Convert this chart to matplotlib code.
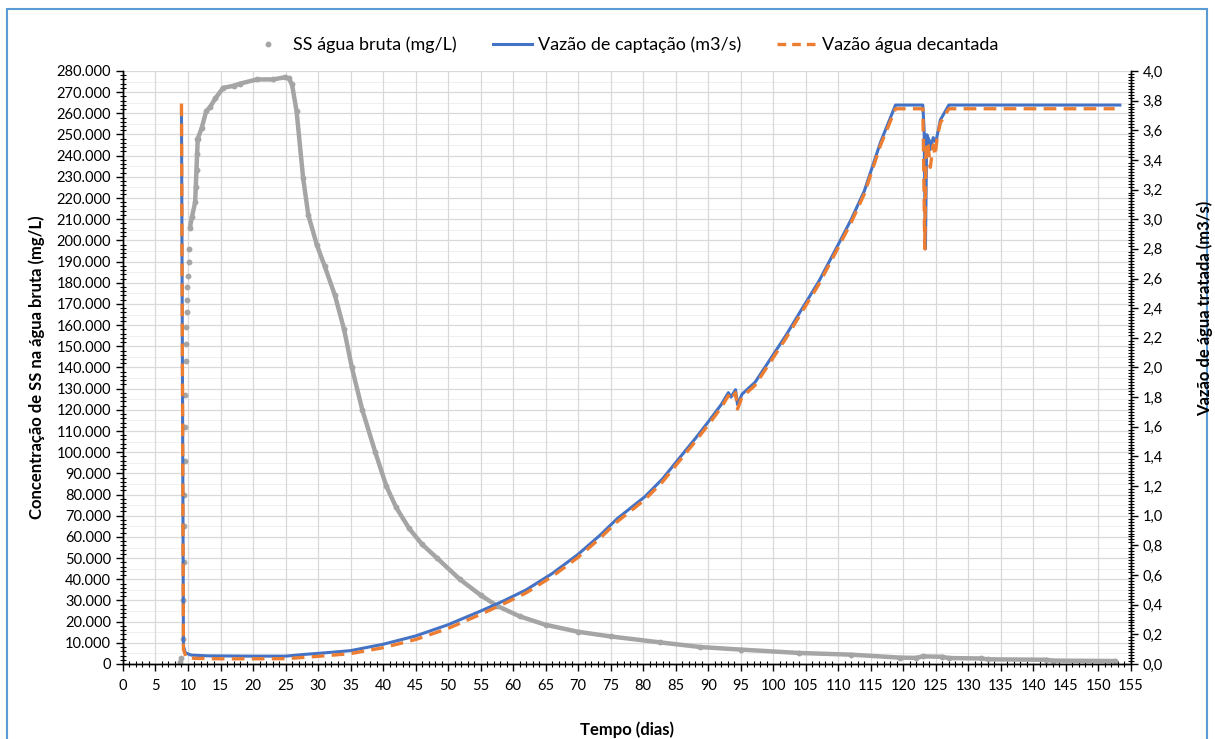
import matplotlib
matplotlib.use('Agg')
import matplotlib.pyplot as plt
from matplotlib.ticker import MultipleLocator, FuncFormatter
from matplotlib.lines import Line2D
from matplotlib.patches import Rectangle

plt.rcParams['font.family'] = ['Lato', 'DejaVu Sans']

# SS na água bruta (mg/L) - trecho inicial, pontos espaçados
ss_dias_ini = [8.8, 8.9, 9.2, 9.3, 9.35, 9.4, 9.45, 9.5, 9.55, 9.6, 9.65, 9.7,
               9.75, 9.8, 9.85, 9.9, 10.0, 10.1, 10.2, 11.3, 11.33, 11.36, 11.4]
ss_ini = [1000, 3000, 12000, 30000, 48000, 65000, 80000, 96000, 112000, 127000,
          143000, 151000, 159000, 166000, 172000, 178000, 183000, 190000, 196000,
          225000, 233000, 241000, 248000]

# SS na água bruta (mg/L) - trecho contínuo
ss_dias = [10.3, 10.6, 11.1, 11.5, 12.1, 12.8, 13.4, 14.2, 15.4, 17.0, 18.0, 20.6,
           23.1, 24.9, 25.5, 26.0, 26.7, 27.7, 28.5, 29.8, 31.0, 32.6, 34.0, 35.2,
           36.8, 38.8, 40.5, 42.0, 44.0, 46.0, 48.3, 51.8, 55.0, 57.5, 61.0, 65.0,
           70.0, 75.0, 82.6, 88.8, 95.0, 104.0, 112.0, 119.5, 122.0, 123.0, 126.0,
           127.0, 132.0, 133.0, 142.0, 143.0, 152.5]
ss = [206000, 211000, 218000, 248000, 253000, 261000, 263000, 267000, 272000,
      273000, 274000, 276000, 276000, 277000, 276500, 273600, 261000, 229600,
      212000, 198000, 188000, 174000, 158000, 140000, 120000, 100000, 84000,
      74000, 64000, 56500, 50000, 40000, 32500, 27500, 22500, 18500, 15200,
      13000, 10200, 8000, 6800, 5200, 4400, 3000, 2900, 3600, 3400, 2800, 2600,
      2200, 2000, 1600, 1400]

# Vazão de captação (m3/s)
cap_dias = [9.0, 9.3, 9.6, 10.5, 13.0, 20.0, 25.0, 28.0, 31.0, 35.0, 40.0, 45.0,
            50.0, 55.0, 58.5, 62.0, 66.0, 70.0, 73.4, 76.0, 80.3, 83.0, 85.4, 88.0,
            90.3, 92.0, 93.1, 93.5, 94.2, 94.5, 95.2, 97.2, 99.3, 102.0, 104.2,
            107.0, 110.0, 112.0, 114.0, 116.5, 118.8, 123.0, 123.2, 123.4, 123.6,
            124.0, 124.15, 124.6, 125.0, 125.7, 127.0, 153.3]
captacao = [3.74, 0.12, 0.075, 0.06, 0.055, 0.053, 0.053, 0.065, 0.075, 0.09,
            0.133, 0.189, 0.265, 0.357, 0.425, 0.50, 0.61, 0.74, 0.87, 0.98, 1.13,
            1.25, 1.38, 1.52, 1.65, 1.75, 1.83, 1.80, 1.85, 1.75, 1.82, 1.90, 2.04,
            2.22, 2.38, 2.58, 2.83, 3.0, 3.19, 3.52, 3.77, 3.77, 3.60, 2.80, 3.57,
            3.53, 3.47, 3.55, 3.52, 3.67, 3.77, 3.77]

# Vazão água decantada (m3/s)
dec_dias = [9.0, 9.3, 9.7, 11.0, 15.0, 20.0, 25.0, 28.0, 31.0, 35.0, 40.0, 45.0,
            50.0, 55.0, 58.5, 62.0, 66.0, 70.0, 73.4, 76.0, 80.3, 83.0, 85.4, 88.0,
            90.3, 92.0, 93.1, 93.5, 94.2, 94.5, 95.2, 97.2, 99.3, 102.0, 104.2,
            107.0, 110.0, 112.0, 114.0, 116.5, 118.8, 123.0, 123.1, 123.3, 123.5,
            123.8, 124.15, 124.6, 124.9, 125.2, 125.7, 127.0, 152.5]
decantada = [3.78, 0.10, 0.045, 0.038, 0.035, 0.035, 0.036, 0.045, 0.055, 0.07,
             0.11, 0.165, 0.24, 0.335, 0.405, 0.48, 0.59, 0.72, 0.85, 0.96, 1.11,
             1.23, 1.36, 1.50, 1.63, 1.73, 1.81, 1.78, 1.83, 1.72, 1.80, 1.88, 2.02,
             2.20, 2.36, 2.56, 2.81, 2.98, 3.17, 3.50, 3.745, 3.745, 3.48, 2.80,
             3.52, 3.50, 3.35, 3.50, 3.43, 3.55, 3.65, 3.745, 3.745]

CINZA = '#A5A5A5'
AZUL = '#4472C4'
LARANJA = '#ED7D31'
GRADE = '#D9D9D9'

fig = plt.figure(figsize=(12.15, 7.39), dpi=100)
ax = fig.add_axes([0.1012, 0.1015, 0.8296, 0.8025])
ax2 = ax.twinx()

# série de SS (eixo principal)
ax.plot(ss_dias, ss, color=CINZA, lw=3.2, solid_capstyle='round', zorder=2)
ax.plot(ss_dias_ini + ss_dias, ss_ini + ss, 'o', color=CINZA, ms=3.2, zorder=2)

# vazões (eixo secundário)
ax2.plot(cap_dias, captacao, color=AZUL, lw=2.2, zorder=3)
ax2.plot(dec_dias, decantada, color=LARANJA, lw=2.4, linestyle=(0, (3.8, 2.2)), zorder=4)

ax.set_xlim(0, 155)
ax.set_ylim(0, 280000)
ax2.set_ylim(0, 4.0)

ax.xaxis.set_major_locator(MultipleLocator(5))
ax.xaxis.set_minor_locator(MultipleLocator(1))
ax.yaxis.set_major_locator(MultipleLocator(10000))
ax.yaxis.set_minor_locator(MultipleLocator(2000))
ax2.yaxis.set_major_locator(MultipleLocator(0.2))
ax2.yaxis.set_minor_locator(MultipleLocator(0.02))

ax.yaxis.set_major_formatter(FuncFormatter(lambda v, p: f'{v:,.0f}'.replace(',', '.')))
ax2.yaxis.set_major_formatter(FuncFormatter(lambda v, p: f'{v:.1f}'.replace('.', ',')))

ax.grid(True, which='major', color=GRADE, lw=0.9, zorder=0)
ax.set_axisbelow(True)
for y in range(5000, 280000, 10000):
    ax.axhline(y, color='#EFEFEF', lw=0.7, zorder=0)

for a in (ax, ax2):
    for s in a.spines.values():
        s.set_color('black')
        s.set_linewidth(1.0)
    a.spines['top'].set_visible(False)

ax.tick_params(which='major', direction='out', length=5, width=1, labelsize=10.5, colors='black')
ax.tick_params(which='minor', direction='inout', length=5, width=0.8, colors='black')
ax2.tick_params(which='major', direction='out', length=5, width=1, labelsize=10.5, colors='black')
ax2.tick_params(which='minor', direction='inout', length=5, width=0.8, colors='black')
ax.tick_params(axis='x', pad=6)

ax.set_xlabel('Tempo (dias)', fontsize=12, fontweight='bold', labelpad=20)
ax.set_ylabel('Concentração de SS na água bruta (mg/L)', fontsize=12, fontweight='bold', labelpad=8)
fig.text(0.992, 1 - 308 / 739, 'Vazão de água tratada (m3/s)', rotation=90,
         fontsize=12, fontweight='bold', ha='center', va='center')

handles = [
    Line2D([], [], marker='o', ls='none', color=CINZA, ms=3.2),
    Line2D([], [], color=AZUL, lw=2.2),
    Line2D([], [], color=LARANJA, lw=2.4, linestyle=(0, (2.6, 1.8))),
]
labels = ['SS água bruta (mg/L)', 'Vazão de captação (m3/s)', 'Vazão água decantada']
fig.legend(handles, labels, loc='center', bbox_to_anchor=(0.513, 1 - 45 / 739), ncol=3,
           frameon=False, fontsize=13, handlelength=2.2, columnspacing=2.0,
           handletextpad=0.3)

# moldura do gráfico
fig.add_artist(Rectangle((7 / 1215, -20 / 739), 1200 / 1215, 750 / 739,
                         transform=fig.transFigure, fill=False,
                         edgecolor='#5B9BD5', lw=1.5))

fig.savefig('out.png', dpi=100)
